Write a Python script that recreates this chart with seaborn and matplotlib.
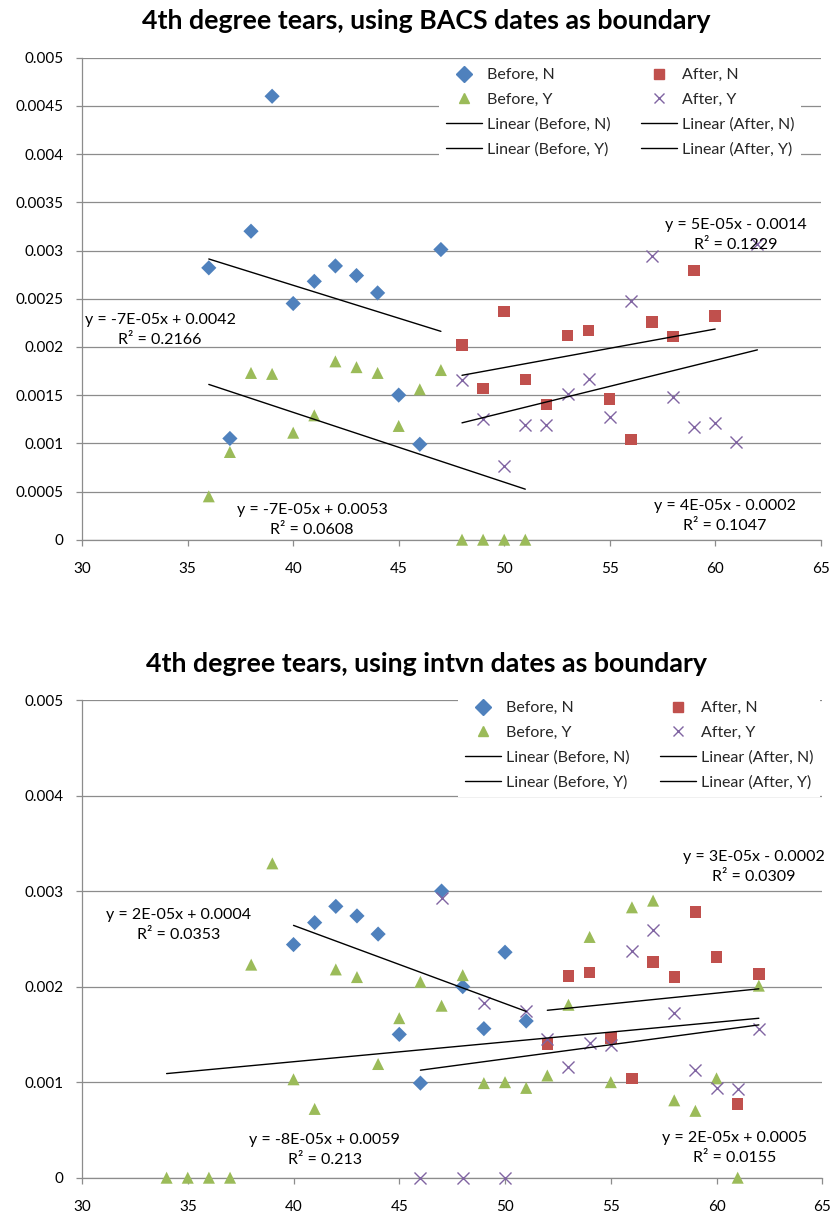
import matplotlib
matplotlib.use("Agg")
import matplotlib.pyplot as plt
import seaborn as sns
from matplotlib.lines import Line2D

# ---------------- data ----------------
titles = ["4th degree tears, using BACS dates as boundary",
          "4th degree tears, using intvn dates as boundary"]

series_names = ["Before, N", "Before, Y", "After, N", "After, Y"]

# Panel 1: BACS dates as boundary
bacs_before_n_x = [36, 37, 38, 39, 40, 41, 42, 43, 44, 45, 46, 47]
bacs_before_n_y = [0.00282, 0.00105, 0.0032, 0.0046, 0.00245, 0.00268, 0.00284, 0.00274,
                   0.00256, 0.0015, 0.00099, 0.00301]
bacs_before_y_x = [36, 37, 38, 39, 40, 41, 42, 43, 44, 45, 46, 47, 48, 49, 50, 51]
bacs_before_y_y = [0.00045, 0.00091, 0.00173, 0.00172, 0.00111, 0.00129, 0.00185, 0.00179,
                   0.00173, 0.00118, 0.00156, 0.00176, 0.0, 0.0, 0.0, 0.0]
bacs_after_n_x = [48, 49, 50, 51, 52, 53, 54, 55, 56, 57, 58, 59, 60]
bacs_after_n_y = [0.00202, 0.00157, 0.00237, 0.00166, 0.0014, 0.00212, 0.00217, 0.00146,
                  0.00104, 0.00226, 0.00211, 0.00279, 0.00232]
bacs_after_y_x = [48, 49, 50, 51, 52, 53, 54, 55, 56, 57, 58, 59, 60, 61, 62]
bacs_after_y_y = [0.00166, 0.00125, 0.00076, 0.00119, 0.00119, 0.00151, 0.00167, 0.00127,
                  0.00248, 0.00294, 0.00148, 0.00117, 0.00121, 0.00101, 0.00307]

# Panel 2: intervention dates as boundary
intvn_before_n_x = [40, 41, 42, 43, 44, 45, 46, 47, 48, 49, 50, 51]
intvn_before_n_y = [0.00244, 0.00267, 0.00284, 0.00274, 0.00255, 0.0015, 0.00099, 0.0030,
                    0.0020, 0.00156, 0.00236, 0.00164]
intvn_before_y_x = [34, 35, 36, 37, 38, 39, 40, 41, 42, 43, 44, 45, 46, 47, 48, 49, 50, 51,
                    52, 53, 54, 55, 56, 57, 58, 59, 60, 61, 62]
intvn_before_y_y = [0.0, 0.0, 0.0, 0.0, 0.00223, 0.00329, 0.00103, 0.00072, 0.00218, 0.0021,
                    0.00119, 0.00167, 0.00205, 0.0018, 0.00212, 0.00099, 0.001, 0.00094,
                    0.00107, 0.00181, 0.00252, 0.001, 0.00283, 0.0029, 0.00081, 0.0007,
                    0.00104, 0.0, 0.00201]
intvn_after_n_x = [52, 53, 54, 55, 56, 57, 58, 59, 60, 61, 62]
intvn_after_n_y = [0.0014, 0.00211, 0.00215, 0.00146, 0.00104, 0.00226, 0.0021, 0.00278,
                   0.00231, 0.00077, 0.00213]
intvn_after_y_x = [46, 47, 48, 49, 50, 51, 52, 53, 54, 55, 56, 57, 58, 59, 60, 61, 62]
intvn_after_y_y = [0.0, 0.00293, 0.0, 0.00183, 0.0, 0.00175, 0.00145, 0.00116, 0.00141,
                   0.00139, 0.00237, 0.00259, 0.00172, 0.00113, 0.00094, 0.00093, 0.00156]

x_ticks = [30, 35, 40, 45, 50, 55, 60, 65]
bacs_y_ticks = [0, 0.0005, 0.001, 0.0015, 0.002, 0.0025, 0.003, 0.0035, 0.004, 0.0045, 0.005]
bacs_y_labels = ["0", "0.0005", "0.001", "0.0015", "0.002", "0.0025", "0.003", "0.0035",
                 "0.004", "0.0045", "0.005"]
intvn_y_ticks = [0, 0.001, 0.002, 0.003, 0.004, 0.005]
intvn_y_labels = ["0", "0.001", "0.002", "0.003", "0.004", "0.005"]

bacs_equations = ["y = -7E-05x + 0.0042\nR² = 0.2166",
                  "y = -7E-05x + 0.0053\nR² = 0.0608",
                  "y = 5E-05x - 0.0014\nR² = 0.1229",
                  "y = 4E-05x - 0.0002\nR² = 0.1047"]
intvn_equations = ["y = 2E-05x + 0.0004\nR² = 0.0353",
                   "y = -8E-05x + 0.0059\nR² = 0.213",
                   "y = 3E-05x - 0.0002\nR² = 0.0309",
                   "y = 2E-05x + 0.0005\nR² = 0.0155"]

# ---------------- style ----------------
sns.set_theme(style="white")
plt.rcParams["font.family"] = ["Lato", "DejaVu Sans"]

COLORS = {"Before, N": "#4F81BD", "Before, Y": "#9BBB59",
          "After, N": "#C0504D", "After, Y": "#8064A2"}
MARKERS = {"Before, N": "D", "Before, Y": "^", "After, N": "s", "After, Y": "x"}
SIZES = {"Before, N": 60, "Before, Y": 75, "After, N": 68, "After, Y": 75}
GRID = "#8c8c8c"
FS = 11.5

W, H = 835, 1213
fig = plt.figure(figsize=(W / 100, H / 100), dpi=100)


def px_axes(l, t, r, b):
    return [l / W, 1 - b / H, (r - l) / W, (b - t) / H]


def draw_panel(ax, xs, ys, yticks, ylabels, equations, eq_pos, leg_anchor, title, title_y):
    for name, x, y in zip(series_names, xs, ys):
        kw = dict(x=x, y=y, ax=ax, marker=MARKERS[name], s=SIZES[name], zorder=3, clip_on=False)
        if name == "After, Y":
            sns.scatterplot(color=COLORS[name], linewidth=1.0, **kw)
        else:
            sns.scatterplot(color=COLORS[name], edgecolor="none", **kw)
    for x, y in zip(xs, ys):
        sns.regplot(x=x, y=y, ax=ax, scatter=False, ci=None, truncate=True,
                    line_kws=dict(color="black", lw=1.0, zorder=4))
    ax.set_xlim(30, 65)
    ax.set_ylim(0, 0.005)
    ax.set_xticks(x_ticks)
    ax.set_xticklabels([str(v) for v in x_ticks])
    ax.set_yticks(yticks)
    ax.set_yticklabels(ylabels)
    ax.set_xlabel("")
    ax.set_ylabel("")
    ax.yaxis.grid(True, color=GRID, lw=0.9)
    ax.xaxis.grid(False)
    ax.set_axisbelow(True)
    for s in ["top", "right"]:
        ax.spines[s].set_visible(False)
    for s in ["left", "bottom"]:
        ax.spines[s].set_color(GRID)
        ax.spines[s].set_linewidth(0.9)
    ax.tick_params(axis="both", direction="out", length=4.3, width=0.9, color=GRID,
                   labelsize=11, labelcolor="black")
    ax.tick_params(axis="y", pad=9)
    ax.tick_params(axis="x", pad=11.5)
    ax.tick_params(axis="both", which="both", left=True, bottom=True)

    for txt, (ex, ey) in zip(equations, eq_pos):
        ax.text(ex, ey, txt, ha="center", va="center", fontsize=FS, linespacing=1.55,
                multialignment="center", color="black", zorder=5)

    handles = []
    for name in ["Before, N", "Before, Y"]:
        handles.append(Line2D([], [], ls="none", marker=MARKERS[name], color=COLORS[name],
                              markersize=7.8, markeredgewidth=1.0))
    handles.append(Line2D([], [], color="black", lw=1.0))
    handles.append(Line2D([], [], color="black", lw=1.0))
    for name in ["After, N", "After, Y"]:
        handles.append(Line2D([], [], ls="none", marker=MARKERS[name], color=COLORS[name],
                              markersize=7.8, markeredgewidth=1.0))
    handles.append(Line2D([], [], color="black", lw=1.0))
    handles.append(Line2D([], [], color="black", lw=1.0))
    labels = ["Before, N", "Before, Y", "Linear (Before, N)", "Linear (Before, Y)",
              "After, N", "After, Y", "Linear (After, N)", "Linear (After, Y)"]
    leg = ax.legend(handles, labels, ncol=2, loc="upper left",
                    bbox_to_anchor=(leg_anchor[0] / W, 1 - leg_anchor[1] / H),
                    bbox_transform=fig.transFigure, fontsize=FS, frameon=True,
                    fancybox=False, framealpha=1, facecolor="white", edgecolor="none",
                    borderpad=0.45, handlelength=2.25, handletextpad=0.3,
                    columnspacing=1.9, labelspacing=0.66, borderaxespad=0)
    leg.set_zorder(6)
    fig.text(426 / W, 1 - title_y / H, title, ha="center", va="center",
             fontsize=19.3, fontweight="bold", color="black")


ax1 = fig.add_axes(px_axes(82.2, 57.7, 820.7, 539.7))
draw_panel(ax1,
           [bacs_before_n_x, bacs_before_y_x, bacs_after_n_x, bacs_after_y_x],
           [bacs_before_n_y, bacs_before_y_y, bacs_after_n_y, bacs_after_y_y],
           bacs_y_ticks, bacs_y_labels, bacs_equations,
           [(33.69, 0.002175), (40.89, 0.000204), (60.97, 0.003164), (60.46, 0.000244)],
           (439, 61), titles[0], 21)

ax2 = fig.add_axes(px_axes(82, 700, 822.3, 1177.7))
draw_panel(ax2,
           [intvn_before_n_x, intvn_before_y_x, intvn_after_n_x, intvn_after_y_x],
           [intvn_before_n_y, intvn_before_y_y, intvn_after_n_y, intvn_after_y_y],
           intvn_y_ticks, intvn_y_labels, intvn_equations,
           [(34.56, 0.002643), (41.47, 0.000285), (61.77, 0.003248), (60.87, 0.000311)],
           (458, 694), titles[1], 664)

fig.savefig("out.png", dpi=100)
